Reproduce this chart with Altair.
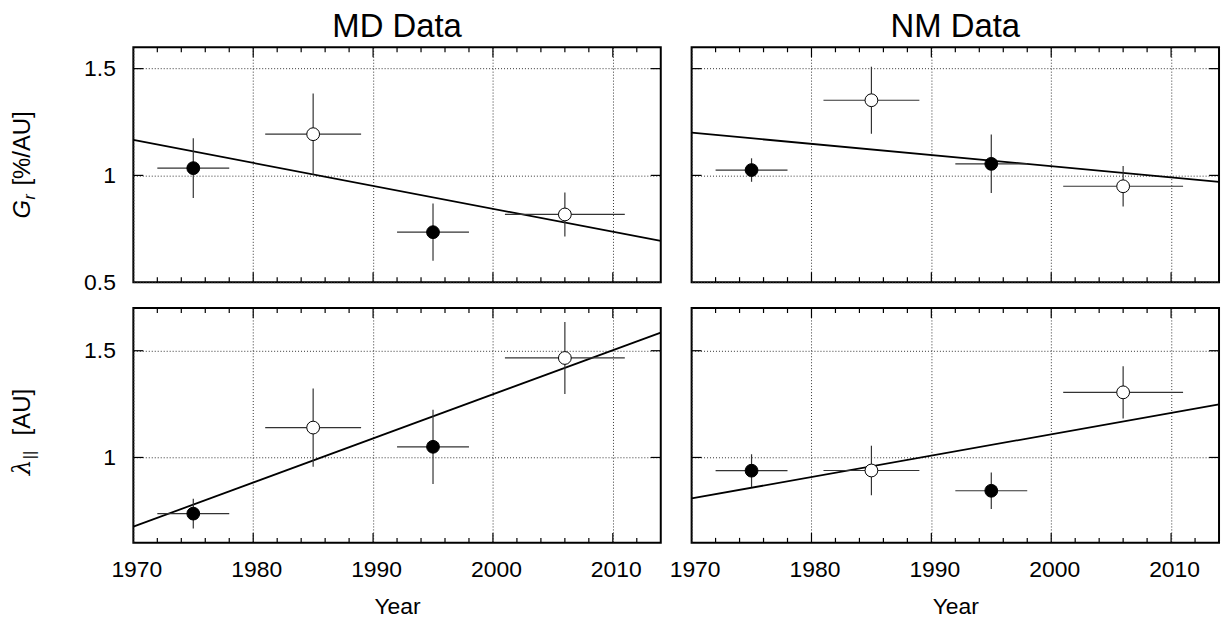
import altair as alt
import pandas as pd

# ---------------- data ----------------
years = [1975, 1985, 1995, 2006]
year_lo = [1972, 1981, 1992, 2001]
year_hi = [1978, 1989, 1998, 2011]
fills = ["black", "white", "black", "white"]

md_gr = [1.034, 1.193, 0.734, 0.817]
md_gr_err = [0.14, 0.19, 0.134, 0.103]
nm_gr = [1.025, 1.352, 1.054, 0.949]
nm_gr_err = [0.055, 0.157, 0.137, 0.095]
md_lam = [0.737, 1.140, 1.050, 1.466]
md_lam_err = [0.07, 0.183, 0.174, 0.169]
nm_lam = [0.938, 0.939, 0.844, 1.305]
nm_lam_err = [0.077, 0.116, 0.085, 0.122]

fit_years = [1970, 2014]
md_gr_fit = [1.166, 0.693]
nm_gr_fit = [1.200, 0.970]
md_lam_fit = [0.676, 1.585]
nm_lam_fit = [0.808, 1.249]

x_labels = [1970, 1980, 1990, 2000, 2010]
x_major = [1980, 1990, 2000, 2010]
x_minor = [1972, 1974, 1976, 1978, 1982, 1984, 1986, 1988, 1992, 1994,
           1996, 1998, 2002, 2004, 2006, 2008, 2012]
gr_labels = [0.5, 1.0, 1.5]
gr_ticks = [1.0, 1.5]
lam_labels = [1.0, 1.5]
lam_ticks = [1.0, 1.5]

W, H = 530, 236
FONT = "Liberation Sans"
LBL = 23


def ttext(txt, x, y, size, italic=False, font=FONT, angle=270, align="left"):
    return alt.Chart(pd.DataFrame({"t": [txt]})).mark_text(
        angle=angle, align=align, baseline="alphabetic", fontSize=size,
        fontStyle="italic" if italic else "normal", font=font, color="black"
    ).encode(text="t:N", x=alt.value(x), y=alt.value(y))


def panel(vals, errs, fit, ydom, ylabels, yticks, show_x, show_y, title=None, ytitle=None):
    df = pd.DataFrame({
        "year": years, "lo": year_lo, "hi": year_hi, "v": vals,
        "vlo": [v - e for v, e in zip(vals, errs)],
        "vhi": [v + e for v, e in zip(vals, errs)],
        "fill": fills,
    })
    xs = alt.Scale(domain=[1970, 2014], nice=False, zero=False)
    ys = alt.Scale(domain=ydom, nice=False, zero=False)
    xaxis = alt.Axis(values=x_labels, format="d", grid=True, ticks=False, domain=False,
                     labels=show_x, title="Year" if show_x else None,
                     labelFont=FONT, titleFont=FONT, labelFontSize=LBL, titleFontSize=LBL,
                     titleFontWeight="normal", labelColor="black", titleColor="black",
                     labelFlush=False, labelOffset=3, labelOverlap=False,
                     labelPadding=16, titlePadding=14, tickSize=0,
                     gridColor="#333", gridDash=[1, 2], gridWidth=1, gridOpacity=1)
    yaxis = alt.Axis(values=ylabels, format="~g", grid=True, ticks=False, domain=False,
                     labels=show_y, title=None, labelFont=FONT, labelFontSize=LBL,
                     labelColor="black", labelPadding=18, tickSize=0,
                     labelFlush=False, labelOverlap=False,
                     gridColor="#333", gridDash=[1, 2], gridWidth=1, gridOpacity=1)
    X = lambda f: alt.X(f, scale=xs, axis=xaxis)
    Y = lambda f: alt.Y(f, scale=ys, axis=yaxis)

    base = alt.Chart(df)
    fitline = alt.Chart(pd.DataFrame({"year": fit_years, "v": fit})).mark_line(
        color="black", strokeWidth=1.8).encode(x=X("year:Q"), y=Y("v:Q"))
    xerr = base.mark_rule(color="#333", strokeWidth=1.2).encode(
        x=X("lo:Q"), x2="hi:Q", y=Y("v:Q"))
    yerr = base.mark_rule(color="#333", strokeWidth=1.2).encode(
        x=X("year:Q"), y=Y("vlo:Q"), y2="vhi:Q")
    pts = base.mark_circle(size=165, stroke="black", strokeWidth=1, opacity=1).encode(
        x=X("year:Q"), y=Y("v:Q"), fill=alt.Fill("fill:N", scale=None))

    layers = []
    tdf_minor = pd.DataFrame({"t": x_minor})
    tdf_major = pd.DataFrame({"t": x_major})
    for d, ln in ((tdf_minor, 5), (tdf_major, 10)):
        c = alt.Chart(d).mark_rule(color="black", strokeWidth=1.2)
        layers.append(c.encode(x=X("t:Q"), y=alt.value(0), y2=alt.value(ln)))
        layers.append(c.encode(x=X("t:Q"), y=alt.value(H), y2=alt.value(H - ln)))
    yd = pd.DataFrame({"t": yticks})
    c = alt.Chart(yd).mark_rule(color="black", strokeWidth=1.2)
    layers.append(c.encode(y=Y("t:Q"), x=alt.value(0), x2=alt.value(10)))
    layers.append(c.encode(y=Y("t:Q"), x=alt.value(W), x2=alt.value(W - 10)))

    layers += [fitline, xerr, yerr, pts]
    if ytitle is not None:
        layers += ytitle
    if title:
        layers.append(ttext(title, W / 2, -10.6, 33, angle=0, align="center"))
    return alt.layer(*layers).properties(width=W, height=H)


gr_title = [
    ttext("G", -103.4, 172, 24, italic=True),
    ttext("r", -98.5, 153, 16, italic=True),
    ttext("[%/AU]", -103.4, 139, 24),
]
lam_title = [
    ttext("λ", -103.4, 168, 25, italic=True, font="DejaVu Serif"),
    ttext("||", -98.5, 152, 17),
    ttext("[AU]", -103.4, 128, 24),
]

p1 = panel(md_gr, md_gr_err, md_gr_fit, [0.5, 1.6], gr_labels, gr_ticks, False, True,
           title="MD Data", ytitle=gr_title)
p2 = panel(nm_gr, nm_gr_err, nm_gr_fit, [0.5, 1.6], gr_labels, gr_ticks, False, False,
           title="NM Data")
p3 = panel(md_lam, md_lam_err, md_lam_fit, [0.6, 1.7], lam_labels, lam_ticks, True, True,
           ytitle=lam_title)
p4 = panel(nm_lam, nm_lam_err, nm_lam_fit, [0.6, 1.7], lam_labels, lam_ticks, True, False)

chart = alt.concat(p1, p2, p3, p4, columns=2, spacing={"row": 26, "column": 31},
                   bounds="flush").properties(
    padding={"left": 9, "top": 8, "right": 1, "bottom": 0},
    background="white",
).configure_view(stroke="black", strokeWidth=2)

chart.save("out.html", embed_options={"renderer": "svg", "actions": False})
